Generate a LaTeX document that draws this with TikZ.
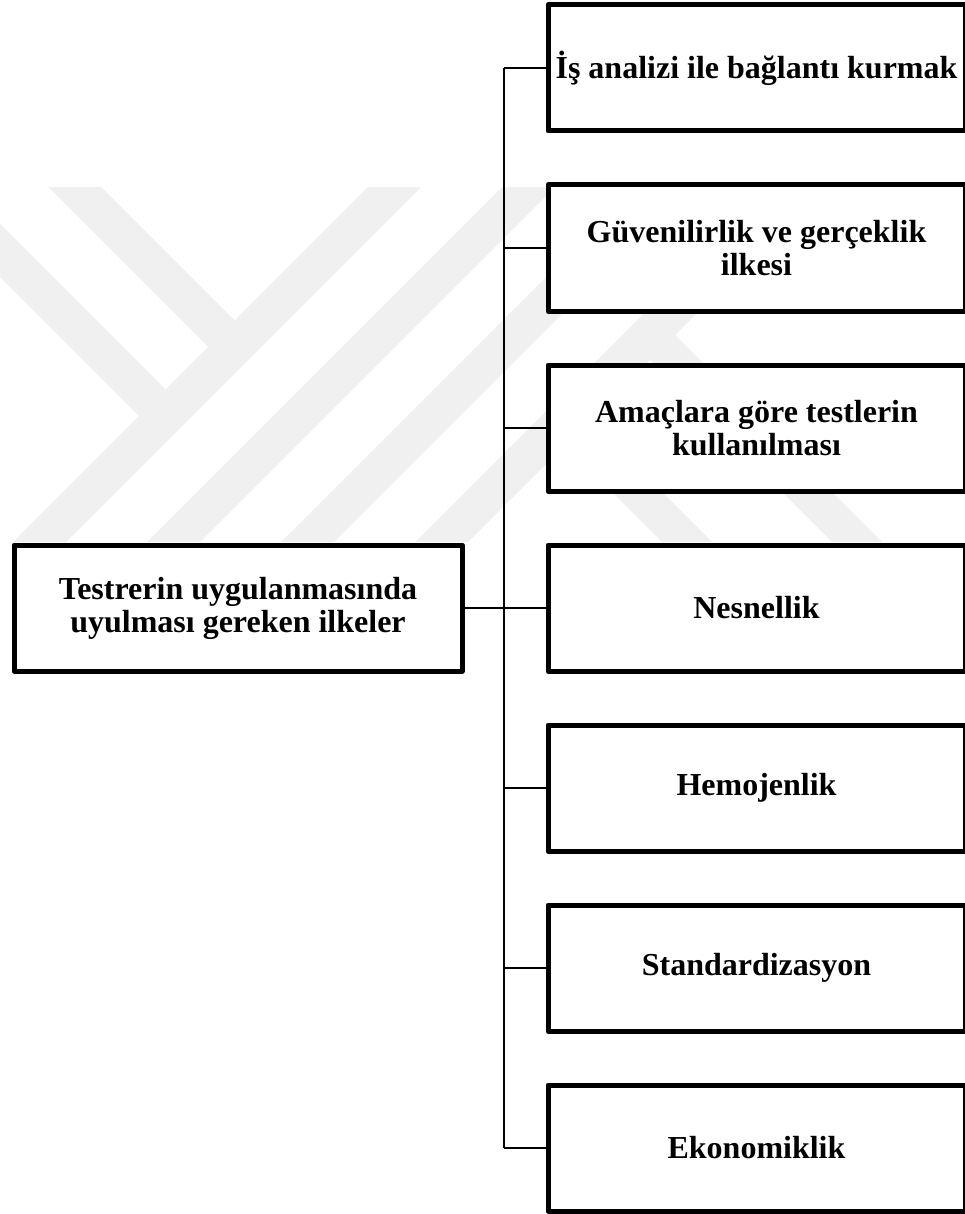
\documentclass[tikz,border=0pt]{standalone}
\usepackage{fontspec}
\setmainfont{Liberation Serif}
\definecolor{wmgray}{RGB}{240,240,240}
\begin{document}
\begin{tikzpicture}[x=1pt,y=-1pt,
  box/.style={draw=black, line width=5pt, fill=white, line join=round,
    minimum width=417pt, minimum height=126pt, inner sep=0pt, align=center,
    font=\fontsize{32}{33}\selectfont\bfseries},
  conn/.style={draw=black, line width=1.6pt}]
\useasboundingbox (0,0) rectangle (964,1214);
% faint watermark
\begin{scope}
  \clip (0,187) rectangle (964,542);
  \foreach \s in {555,689,823,957}{
    \fill[wmgray] ({\s-187},187) -- ({\s+53-187},187) -- ({\s+53-542},542) -- ({\s-542},542) -- cycle;
  }
  % Y arms
  \fill[wmgray] (48,187) -- (101,187) -- (237,323) -- (211,350) -- cycle;
  \fill[wmgray] (-90,187) -- (-37,187) -- (168,392) -- (142,419) -- cycle;
  % K legs
  \fill[wmgray] (670,330) -- (645,355) -- (832,542) -- (882,542) -- cycle;
  \fill[wmgray] (585,415) -- (560,440) -- (662,542) -- (712,542) -- cycle;
\end{scope}
% boxes
\node[box] (b1) at (756.5,68) {İş analizi ile bağlantı kurmak};
\node[box] (b2) at (756.5,248) {Güvenilirlik ve gerçeklik\\ilkesi};
\node[box] (b3) at (756.5,428) {Amaçlara göre testlerin\\kullanılması};
\node[box] (b4) at (756.5,608) {Nesnellik};
\node[box] (b5) at (756.5,788) {Hemojenlik};
\node[box] (b6) at (756.5,968) {Standardizasyon};
\node[box] (b7) at (756.5,1148) {Ekonomiklik};
\node[box, minimum width=448pt] (root) at (238,608) {Testrerin uygulanmasında\\uyulması gereken ilkeler};
% trunk
\foreach \i/\yy in {1/68,2/248,3/428,4/608,5/788,6/968,7/1148}{
  \coordinate (k\i) at (504,\yy);
}
\draw[conn] (k1) -- (k7);
\foreach \i in {1,...,7}{
  \draw[conn] (k\i) -- (b\i.west);
}
\draw[conn] (root.east) -- (b4.west);
\end{tikzpicture}
\end{document}
